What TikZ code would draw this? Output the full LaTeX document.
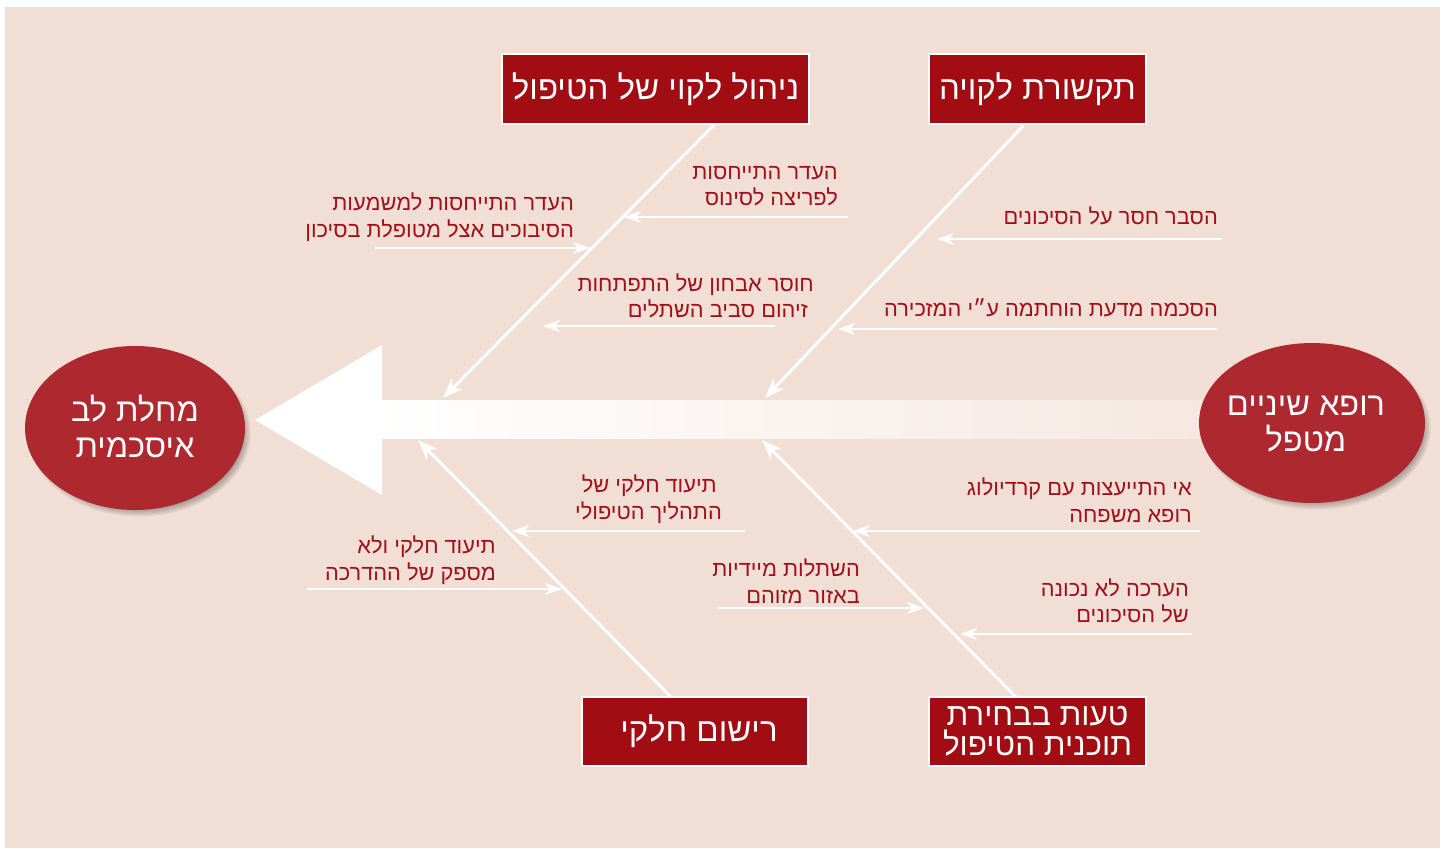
\documentclass[tikz,border=0pt]{standalone}
\usepackage{fontspec}
\setmainfont[Script=Hebrew]{Liberation Sans}
\TeXXeTstate=1
\usetikzlibrary{arrows.meta}
\definecolor{bg}{RGB}{241,222,212}
\definecolor{boxred}{RGB}{161,13,19}
\definecolor{ellred}{RGB}{174,40,48}
\definecolor{txtred}{RGB}{160,16,26}
\newcommand\heb[1]{\beginR #1\endR}
\begin{document}
\begin{tikzpicture}[x=1pt,y=-1pt,
  catbox/.style={draw=white, line width=2.5pt, fill=boxred, text=white,
    font=\fontsize{33}{28}\selectfont, align=center, inner sep=0pt},
  ellnode/.style={fill=ellred, text=white, font=\fontsize{32.5}{36}\selectfont,
    align=center, inner sep=0pt},
  lbl/.style={text=txtred, font=\fontsize{21.8}{26.5}\selectfont, align=right,
    inner sep=0pt, anchor=east},
  bone/.style={draw=white, line width=3pt, -{Stealth[length=20pt,width=15pt,inset=6pt]}},
  rib/.style={draw=white, line width=2.5pt, -{Stealth[length=17pt,width=12pt,inset=5pt]}}
]
\useasboundingbox (0,0) rectangle (1447,848);
\fill[white] (0,0) rectangle (1447,848);
\fill[bg] (5,7) rectangle (1440,848);

% main spine
\shade[left color=white, right color=bg!70!white] (380,400) rectangle (1210,438);
\fill[white] (255,420) -- (382,345) -- (382,495) -- cycle;

% category boxes
\node[catbox, minimum width=307pt, minimum height=70pt] (c1) at (655.5,89) {\heb{ניהול לקוי של הטיפול}};
\node[catbox, minimum width=217pt, minimum height=70pt] (c2) at (1037.5,89) {\heb{תקשורת לקויה}};
\node[catbox, minimum width=226pt, minimum height=69pt] (c3) at (695,731.5) {\hspace*{8pt}\heb{רישום חלקי}};
\node[catbox, minimum width=217pt, minimum height=69pt, font=\fontsize{31.5}{30}\selectfont] (c4) at (1037.5,731.5) {\heb{טעות בבחירת}\\\heb{תוכנית הטיפול}};

% bone coordinates
\coordinate (b1s) at (714,125);  \coordinate (b1e) at (443,398);
\coordinate (b2s) at (1024,125); \coordinate (b2e) at (765,398);
\coordinate (b3s) at (671,697);  \coordinate (b3e) at (418,440);
\coordinate (b4s) at (1016,697); \coordinate (b4e) at (762,440);
\draw[bone] (b1s) -- (b1e);
\draw[bone] (b2s) -- (b2e);
\draw[bone] (b3s) -- (b3e);
\draw[bone] (b4s) -- (b4e);

% rib coordinates
\coordinate (r1s) at (848,217);  \coordinate (r1e) at (624,217);
\coordinate (r2s) at (375,248);  \coordinate (r2e) at (590,248);
\coordinate (r3s) at (775,326);  \coordinate (r3e) at (543,326);
\coordinate (r4s) at (1222,239); \coordinate (r4e) at (937,239);
\coordinate (r5s) at (1217,329); \coordinate (r5e) at (838,329);
\coordinate (r6s) at (745,531);  \coordinate (r6e) at (512,531);
\coordinate (r7s) at (307,589);  \coordinate (r7e) at (562,589);
\coordinate (r8s) at (1200,531); \coordinate (r8e) at (853,531);
\coordinate (r9s) at (718,608);  \coordinate (r9e) at (924,608);
\coordinate (r10s) at (1192,634); \coordinate (r10e) at (960,634);
\foreach \i in {1,...,10} {\draw[rib] (r\i s) -- (r\i e);}

% labels
\node[lbl] (t1) at (838,186) {\heb{העדר התייחסות}\\\heb{לפריצה לסינוס}};
\node[lbl] (t2) at (574,217) {\heb{העדר התייחסות למשמעות}\\\heb{הסיבוכים אצל מטופלת בסיכון}};
\node[lbl] (t3) at (814,296) {\heb{חוסר אבחון של התפתחות}\\\heb{זיהום סביב השתלים}\hspace*{6pt}};
\node[lbl] (t4) at (1218,216) {\heb{הסבר חסר על הסיכונים}};
\node[lbl] (t5) at (1218,308) {\heb{הסכמה מדעת הוחתמה ע״י המזכירה}};
\node[lbl] (t6) at (722,499) {\heb{תיעוד חלקי של}\hspace*{5pt}\\\heb{התהליך הטיפולי}};
\node[lbl] (t7) at (496,560) {\heb{תיעוד חלקי ולא}\\\heb{מספק של ההדרכה}};
\node[lbl] (t8) at (1192,500) {\heb{אי התייעצות עם קרדיולוג}\\\heb{רופא משפחה}};
\node[lbl] (t9) at (860,581) {\heb{השתלות מיידיות}\\\heb{באזור מזוהם}};
\node[lbl] (t10) at (1189,601) {\heb{הערכה לא נכונה}\\\heb{של הסיכונים}};

% ellipse shadows
\foreach \k in {0,1.5,...,7.5} {
  \fill[black, opacity=0.06] (139,433) ellipse [x radius=104pt+\k pt, y radius=76pt+\k pt];
  \fill[black, opacity=0.06] (1316,428) ellipse [x radius=107pt+\k pt, y radius=74pt+\k pt];
}
\fill[ellred] (135,428) ellipse [x radius=110pt, y radius=82pt];
\fill[ellred] (1312,423) ellipse [x radius=113pt, y radius=80pt];
\node[ellnode] (effect) at (135,426) {\heb{מחלת לב}\\\heb{איסכמית}};
\node[ellnode] (cause) at (1306,424) {\heb{רופא שיניים}\\\heb{מטפל}};
\end{tikzpicture}
\end{document}
